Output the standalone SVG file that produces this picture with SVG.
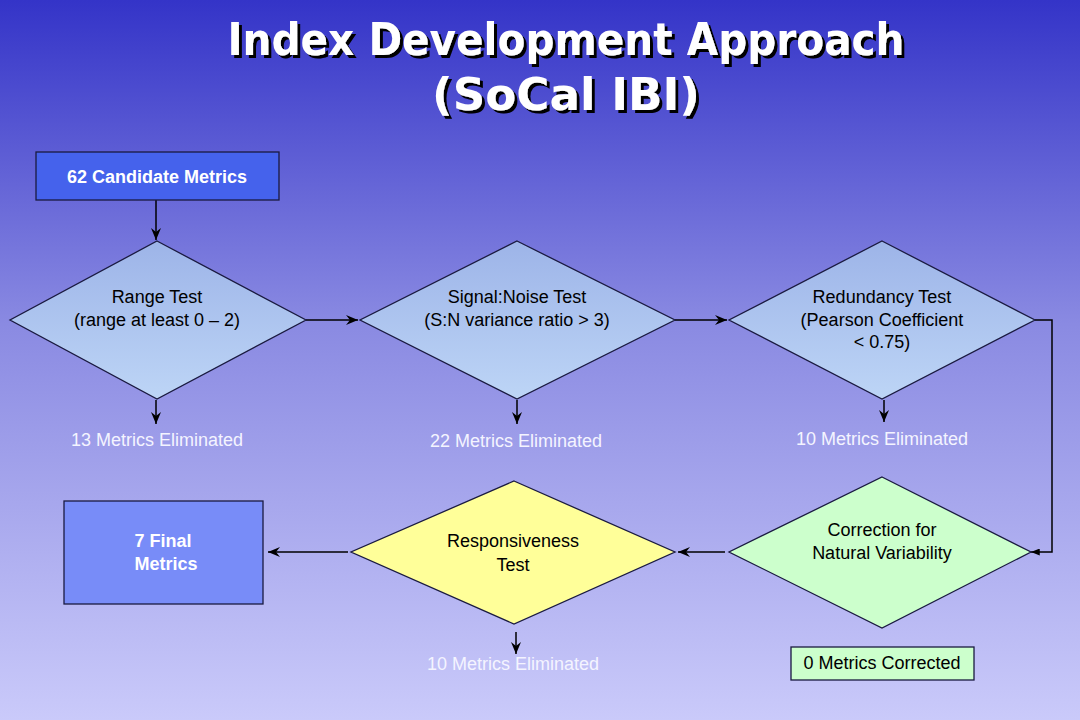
<svg xmlns="http://www.w3.org/2000/svg" width="1080" height="720" viewBox="0 0 1080 720">
<defs>
<linearGradient id="bg" x1="0" y1="0" x2="0" y2="1">
<stop offset="0" stop-color="#3434C8"/>
<stop offset="0.45" stop-color="#8A8AE2"/>
<stop offset="1" stop-color="#CACAFA"/>
</linearGradient>
<linearGradient id="blueD" x1="0" y1="0" x2="0" y2="1">
<stop offset="0" stop-color="#9DB4E8"/>
<stop offset="1" stop-color="#BDD5F6"/>
</linearGradient>
<filter id="shadow" x="-5%" y="-20%" width="110%" height="140%">
<feDropShadow dx="3" dy="3" stdDeviation="0.6" flood-color="#000" flood-opacity="1"/>
</filter>
<marker id="ah" viewBox="0 0 12 10" refX="12" refY="5" markerWidth="12" markerHeight="10" markerUnits="userSpaceOnUse" orient="auto">
<path d="M0,0 L12,5 L0,10 L4,5 z" fill="#000"/>
</marker>
<marker id="ahs" viewBox="0 0 10 8" refX="10" refY="4" markerWidth="9" markerHeight="7" markerUnits="userSpaceOnUse" orient="auto">
<path d="M0,0 L10,4 L0,8 z" fill="#000"/>
</marker>
<style>
.t{font-family:"Liberation Sans",Arial,sans-serif;font-size:18px;text-anchor:middle;fill:#000}
.w{font-family:"Liberation Sans",Arial,sans-serif;font-size:18px;text-anchor:middle;fill:#F4F4FF}
.wb{font-family:"Liberation Sans",Arial,sans-serif;font-size:18px;font-weight:bold;text-anchor:middle;fill:#FFFFFF}
.ttl{font-family:"DejaVu Sans","Liberation Sans",sans-serif;font-size:44px;font-weight:bold;text-anchor:middle;fill:#FFFFFF}
.sh{stroke:#1a1a40;stroke-width:1.3}
.c{fill:none;stroke:#000;stroke-width:1.5}
</style>
</defs>
<rect x="0" y="0" width="1080" height="720" fill="url(#bg)"/>

<g id="title" filter="url(#shadow)">
<text class="ttl" x="566" y="55" textLength="677" lengthAdjust="spacingAndGlyphs">Index Development Approach</text>
<text class="ttl" x="566" y="110" textLength="268" lengthAdjust="spacingAndGlyphs">(SoCal IBI)</text>
</g>

<g id="connectors">
<line class="c" x1="156" y1="200" x2="156" y2="240" marker-end="url(#ah)"/>
<line class="c" x1="306" y1="320" x2="358" y2="320" marker-end="url(#ah)"/>
<line class="c" x1="675" y1="320" x2="727" y2="320" marker-end="url(#ah)"/>
<polyline class="c" points="1035,320 1052,320 1052,552 1031,552" marker-end="url(#ahs)"/>
<line class="c" x1="156" y1="400" x2="156" y2="424" marker-end="url(#ah)"/>
<line class="c" x1="517" y1="400" x2="517" y2="424" marker-end="url(#ah)"/>
<line class="c" x1="884" y1="400" x2="884" y2="422" marker-end="url(#ah)"/>
<line class="c" x1="725" y1="552" x2="678" y2="552" marker-end="url(#ah)"/>
<line class="c" x1="348" y1="552" x2="268" y2="552" marker-end="url(#ah)"/>
<line class="c" x1="516" y1="632" x2="516" y2="654" marker-end="url(#ah)"/>
</g>

<g id="candidate">
<rect x="36" y="152" width="243" height="48" fill="#4562EC" class="sh"/>
<text class="wb" x="157" y="183">62 Candidate Metrics</text>
</g>

<g id="rangeTest">
<polygon points="157,241 306,320 157,399 10,320" fill="url(#blueD)" class="sh"/>
<text class="t" x="157" y="303">Range Test</text>
<text class="t" x="157" y="326">(range at least 0 – 2)</text>
</g>

<g id="snTest">
<polygon points="517,241 675,320 517,399 360,320" fill="url(#blueD)" class="sh"/>
<text class="t" x="517" y="303">Signal:Noise Test</text>
<text class="t" x="517" y="326">(S:N variance ratio &gt; 3)</text>
</g>

<g id="redundancyTest">
<polygon points="882,241 1035,320 882,399 729,320" fill="url(#blueD)" class="sh"/>
<text class="t" x="882" y="303">Redundancy Test</text>
<text class="t" x="882" y="326">(Pearson Coefficient</text>
<text class="t" x="882" y="348">&lt; 0.75)</text>
</g>

<g id="elim1"><text class="w" x="157" y="446">13 Metrics Eliminated</text></g>
<g id="elim2"><text class="w" x="516" y="447">22 Metrics Eliminated</text></g>
<g id="elim3"><text class="w" x="882" y="445">10 Metrics Eliminated</text></g>

<g id="correction">
<polygon points="882,477 1031,552 882,628 729,552" fill="#CCFFCC" class="sh"/>
<text class="t" x="882" y="536">Correction for</text>
<text class="t" x="882" y="559">Natural Variability</text>
</g>

<g id="corrected">
<rect x="791" y="647" width="183" height="33" fill="#CCFFCC" class="sh"/>
<text class="t" x="882" y="669">0 Metrics Corrected</text>
</g>

<g id="responsiveness">
<polygon points="514,481 675,552 514,624 351,552" fill="#FFFF99" class="sh"/>
<text class="t" x="513" y="547">Responsiveness</text>
<text class="t" x="513" y="571">Test</text>
</g>

<g id="elim4"><text class="w" x="513" y="670">10 Metrics Eliminated</text></g>

<g id="final">
<rect x="64" y="501" width="199" height="103" fill="#788CF8" class="sh"/>
<text class="wb" x="163" y="547">7 Final</text>
<text class="wb" x="166" y="570">Metrics</text>
</g>
</svg>
